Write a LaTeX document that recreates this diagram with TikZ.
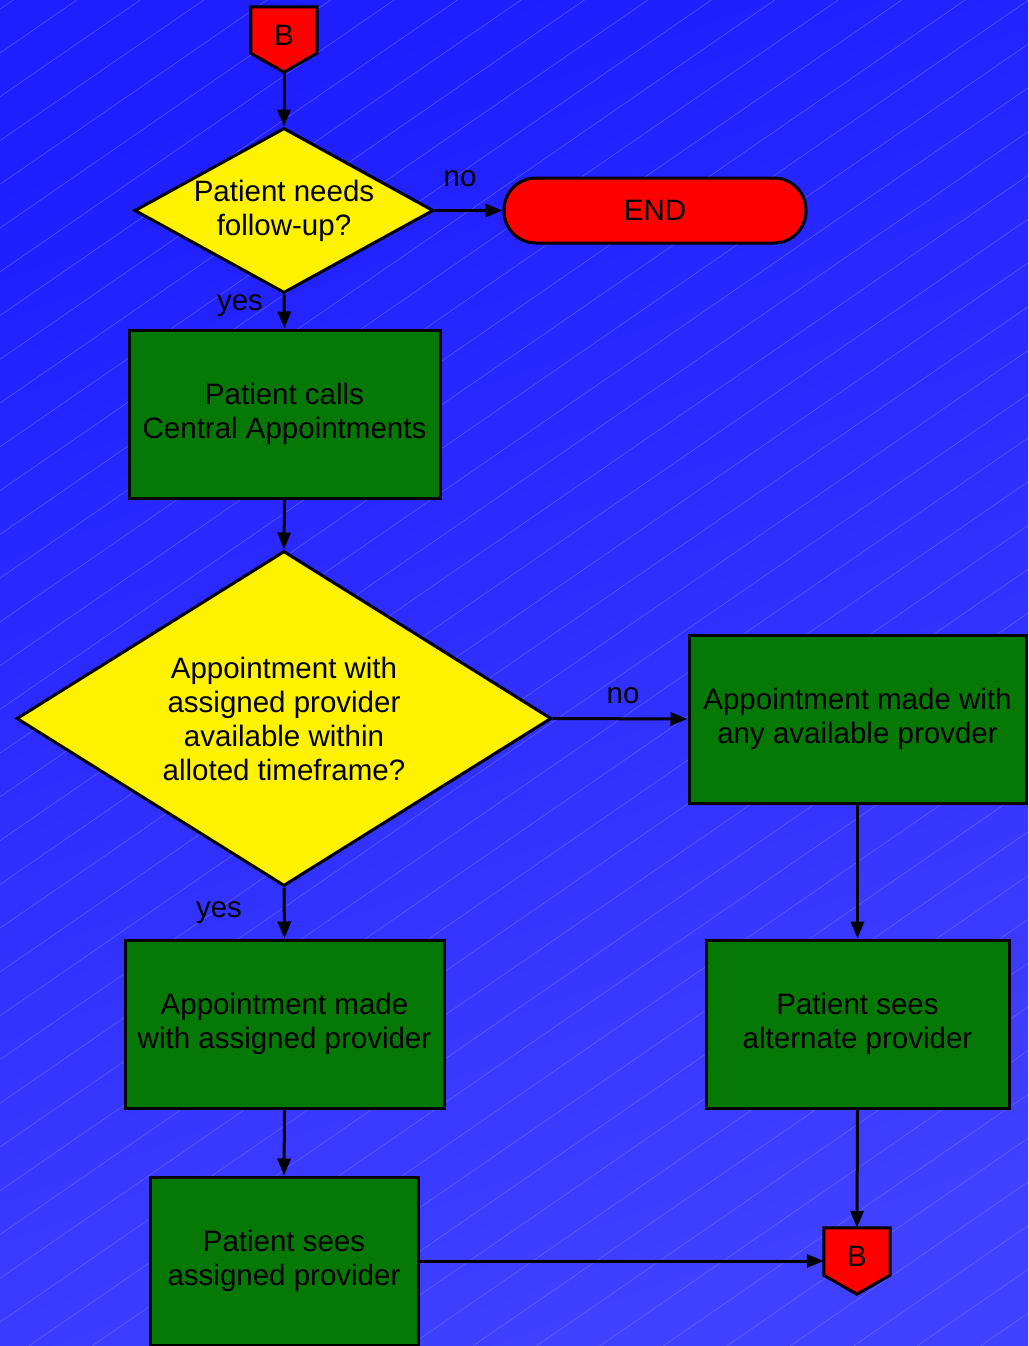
\documentclass[tikz,border=0pt]{standalone}
\usepackage{fontspec}
\setmainfont{Liberation Sans}
\usetikzlibrary{shapes.geometric,arrows.meta,calc}

\definecolor{bgtop}{RGB}{30,30,255}
\definecolor{bgbot}{RGB}{64,64,255}
\definecolor{hatch}{RGB}{130,130,255}
\definecolor{boxgreen}{RGB}{6,120,6}

\pgfdeclarelayer{backdrop}
\pgfdeclarelayer{outlines}
\pgfsetlayers{backdrop,outlines,main}

\begin{document}
\begin{tikzpicture}[x=1pt,y=-1pt,
  every node/.style={font=\fontsize{29.5}{34}\selectfont},
  base/.style={draw=black, line width=3pt, inner sep=0pt, align=center},
  process/.style={base, rectangle, fill=boxgreen},
  decision/.style={base, diamond, fill=yellow},
  terminal/.style={base, rectangle, rounded corners=32pt, fill=red},
  offpage/.style={inner sep=0pt, minimum width=66pt, minimum height=56pt},
  offpageshape/.style={draw=black, line width=3pt, fill=red, line join=miter},
  flow/.style={line width=3pt, -{Triangle[length=17pt,width=13pt]}},
  lbl/.style={inner sep=0pt, anchor=base}
]
\useasboundingbox (0,0) rectangle (1028,1346);

% backdrop: gradient with faint diagonal hatching
\begin{pgfonlayer}{backdrop}
  \begin{scope}
    \clip (0,0) rectangle (1028,1346);
    \shade[top color=bgtop, bottom color=bgbot, shading angle=20] (-10,-10) rectangle (1040,1360);
    \foreach \k in {-1,...,47}
      \draw[hatch, line width=0.5pt, opacity=0.6] (0,53+43.76*\k) -- ++(1028,-709);
  \end{scope}
\end{pgfonlayer}

% off-page connector at the top
\node[offpage] (b1) at (284,35) {B};
\coordinate (b1tip) at ($(b1.south)+(0,9)$);

% first decision and the end terminal
\node[decision, aspect=1.812, minimum width=299pt, minimum height=165pt] (d1) at (284,210.5) {Patient needs\\follow-up?};
\node[terminal, minimum width=302pt, minimum height=65pt] (end) at (655,210.5) {END};

% left column
\node[process, minimum width=311pt, minimum height=168pt] (call) at (284.5,414) {Patient calls\\Central Appointments};
\node[decision, aspect=1.597, minimum width=535pt, minimum height=335pt] (d2) at (284,718.5) {Appointment with\\assigned provider\\available within\\alloted timeframe?};
\node[process, minimum width=319pt, minimum height=168pt] (madeassigned) at (284.5,1024) {Appointment made\\with assigned provider};
\node[process, minimum width=268pt, minimum height=168pt] (seesassigned) at (284,1261) {Patient sees\\assigned provider};

% right column
\node[process, minimum width=337pt, minimum height=168pt] (madeany) at (857.5,719) {Appointment made with\\ any available provder};
\node[process, minimum width=303pt, minimum height=168pt] (seesalt) at (857.5,1024) {Patient sees\\alternate provider};

% off-page connector at the bottom
\node[offpage] (b2) at (857,1256) {B};

% pentagon outlines of the off-page connectors
\begin{pgfonlayer}{outlines}
  \draw[offpageshape] (b1.north west) -- (b1.north east) -- ($(b1.south east)+(0,-10)$)
    -- (b1tip) -- ($(b1.south west)+(0,-10)$) -- cycle;
  \draw[offpageshape] (b2.north west) -- (b2.north east) -- ($(b2.south east)+(0,-9)$)
    -- ($(b2.south)+(0,10)$) -- ($(b2.south west)+(0,-9)$) -- cycle;
\end{pgfonlayer}

% connectors
\draw[flow] (b1tip) -- (d1.north);
\draw[flow] (d1.east) -- (end.west);
\draw[flow] (d1.south) -- (call.north);
\draw[flow] (call.south) -- (d2.north);
\draw[flow] (d2.east) -- (madeany.west);
\draw[flow] (d2.south) -- (madeassigned.north);
\draw[flow] (madeassigned.south) -- (seesassigned.north);
\draw[flow] (madeany.south) -- (seesalt.north);
\draw[flow] (seesalt.south) -- (b2.north);
\draw[flow] (seesassigned.east) -- (seesassigned.east -| b2.west);

% branch labels
\node[lbl] (no1) at (460,186) {no};
\node[lbl] (yes1) at (240,310) {yes};
\node[lbl] (no2) at (623,703) {no};
\node[lbl] (yes2) at (219,917) {yes};
\end{tikzpicture}
\end{document}
